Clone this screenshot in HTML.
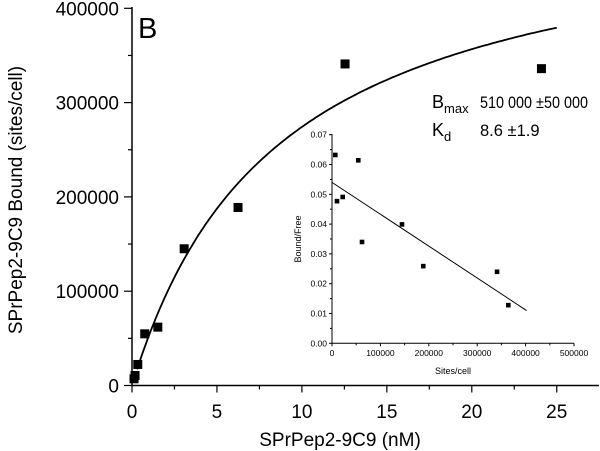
<!DOCTYPE html>
<html><head><meta charset="utf-8"><style>
body{margin:0;background:#fff}
svg{display:block;font-family:"Liberation Sans",Arial,sans-serif}
</style></head><body>
<svg id="chart" width="600" height="451" viewBox="0 0 600 451">
<g id="main"></g><g id="inset"></g>
<text x="138" y="38" font-size="29">B</text>
<text x="432" y="108" font-size="18">B<tspan font-size="13" dy="5">max</tspan></text>
<text x="480" y="108" font-size="16.5" textLength="108" lengthAdjust="spacingAndGlyphs">510 000 ±50 000</text>
<text x="432" y="136" font-size="18">K<tspan font-size="13" dy="5">d</tspan></text>
<text x="480" y="136" font-size="16.5">8.6 ±1.9</text>
<text x="340" y="446" font-size="19" text-anchor="middle">SPrPep2-9C9 (nM)</text>
<text transform="translate(22,200) rotate(-90)" font-size="19" text-anchor="middle">SPrPep2-9C9 Bound (sites/cell)</text>
<text x="453" y="374" font-size="9" text-anchor="middle">Sites/cell</text>
<text transform="translate(301,239) rotate(-90)" font-size="9" text-anchor="middle">Bound/Free</text>
</svg>
<script>
const concNM=[0.12,0.18,0.34,0.75,1.52,3.07,6.24,12.54,24.1];
const boundSites=[7100,10600,22300,54800,61900,145000,188800,341000,336000];
const bmax=510000, kd=8.6;
const xTicks=[0,5,10,15,20,25];
const yTicks=[0,100000,200000,300000,400000];
const insetX=[6800,10300,22100,54300,62000,144600,188600,341000,364300];
const insetY=[0.0632,0.0477,0.0491,0.0614,0.034,0.0399,0.0259,0.024,0.0128];
const fitLine=[[0,0.054],[402000,0.011]];
const insetXTicks=[0,100000,200000,300000,400000,500000];
const insetYTicks=[0,0.01,0.02,0.03,0.04,0.05,0.06,0.07];

const NS="http://www.w3.org/2000/svg";
function mk(p,t,a){const e=document.createElementNS(NS,t);for(const k in a)e.setAttribute(k,a[k]);p.appendChild(e);return e;}
const main=document.getElementById('main'), inset=document.getElementById('inset');
const X=v=>132+v*16.99, Y=v=>385.5-v/100000*94.3;
let e;
e=mk(main,'line',{x1:132,y1:385.5,x2:599,y2:385.5,stroke:'#000','stroke-width':1.5});


e=mk(main,'line',{x1:132,y1:385.5,x2:132,y2:7,stroke:'#000','stroke-width':1.5});


for(let v=0;v<=27;v+=2.5){const maj=v%5===0;mk(main,'line',{x1:X(v),x2:X(v),y1:385.5,y2:385.5+(maj?7:4),stroke:'#000','stroke-width':1.2});}
xTicks.forEach(v=>{e=mk(main,'text',{x:X(v),y:418,'font-size':19,'text-anchor':'middle'});e.textContent=v;

});
for(let v=0;v<=400000;v+=50000){const maj=v%100000===0;mk(main,'line',{x1:132-(maj?8:4),x2:132,y1:Y(v),y2:Y(v),stroke:'#000','stroke-width':1.2});}
yTicks.forEach(v=>{e=mk(main,'text',{x:119,y:Y(v)+7,'font-size':19,'text-anchor':'end'});e.textContent=v;

});
let d='';for(let i=0;i<=200;i++){const x=0.3+i*(25-0.3)/200;d+=(i?'L':'M')+X(x).toFixed(1)+' '+Y(bmax*x/(kd+x)).toFixed(1);}
e=mk(main,'path',{d:d,fill:'none',stroke:'#000','stroke-width':1.8});


concNM.forEach((c,i)=>{e=mk(main,'rect',{x:X(c)-4.5,y:Y(boundSites[i])-4.5,width:9,height:9,fill:'#000'});

});

const IX=v=>332+v/100000*48.4, IY=v=>343.3-v*2980;
e=mk(inset,'line',{x1:332,y1:343.3,x2:574,y2:343.3,stroke:'#000','stroke-width':1});


e=mk(inset,'line',{x1:332,y1:343.3,x2:332,y2:134,stroke:'#000','stroke-width':1});


for(let v=0;v<=500000;v+=50000){mk(inset,'line',{x1:IX(v),x2:IX(v),y1:343.3,y2:343.3+(v%100000===0?3:2),stroke:'#000'});}
insetXTicks.forEach(v=>{e=mk(inset,'text',{x:IX(v),y:356,'font-size':8.5,'text-anchor':'middle'});e.textContent=v;

});
for(let i=0;i<=14;i++){const v=i*0.005;mk(inset,'line',{x1:332-(i%2===0?3:2),x2:332,y1:IY(v),y2:IY(v),stroke:'#000'});}
insetYTicks.forEach(v=>{e=mk(inset,'text',{x:327,y:IY(v)+3,'font-size':8.5,'text-anchor':'end'});e.textContent=v.toFixed(2);

});
e=mk(inset,'line',{x1:IX(fitLine[0][0]),y1:IY(fitLine[0][1]),x2:IX(fitLine[1][0]),y2:IY(fitLine[1][1]),stroke:'#000','stroke-width':1});


insetX.forEach((x,i)=>{e=mk(inset,'rect',{x:IX(x)-2.3,y:IY(insetY[i])-2.3,width:4.6,height:4.6,fill:'#000'});

});
</script>
</body></html>
